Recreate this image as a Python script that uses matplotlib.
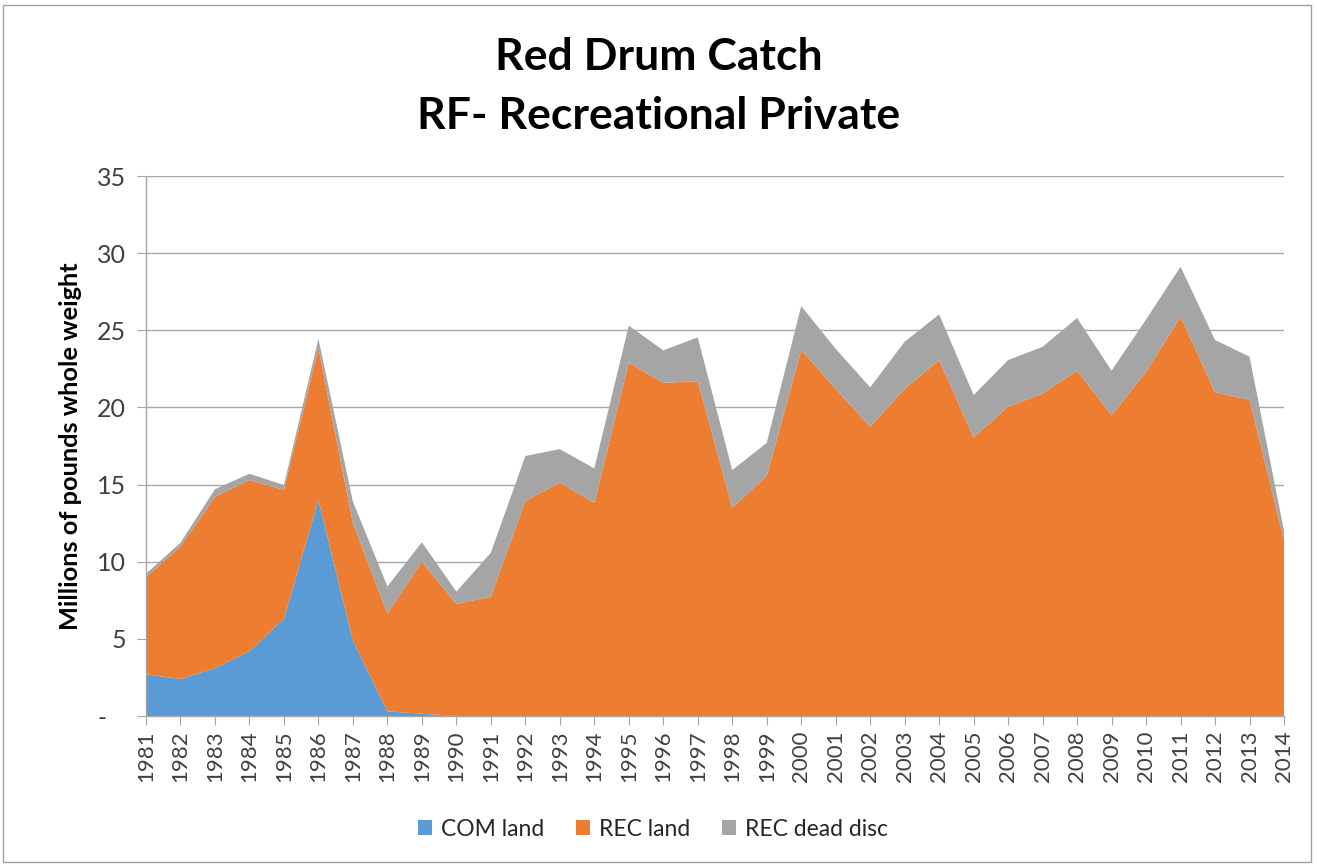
import matplotlib
matplotlib.use("Agg")
import matplotlib.pyplot as plt
from matplotlib import font_manager
from matplotlib.patches import Patch, Rectangle

years = list(range(1981, 2015))
com_land = [2.7, 2.4, 3.1, 4.2, 6.3, 14.0, 4.9, 0.3, 0.15, 0.0,
            0, 0, 0, 0, 0, 0, 0, 0, 0, 0,
            0, 0, 0, 0, 0, 0, 0, 0, 0, 0,
            0, 0, 0, 0]
rec_land = [6.3, 8.6, 11.1, 11.1, 8.35, 9.85, 7.6, 6.35, 9.85, 7.26,
            7.73, 13.95, 15.12, 13.83, 22.9, 21.6, 21.7, 13.5, 15.55, 23.72,
            21.2, 18.75, 21.2, 23.07, 18.06, 20.05, 20.9, 22.38, 19.5, 22.3,
            25.88, 20.98, 20.5, 11.4]
rec_dead_disc = [0.22, 0.23, 0.5, 0.4, 0.32, 0.6, 1.4, 1.75, 1.26, 0.8,
                 2.85, 2.9, 2.18, 2.22, 2.4, 2.1, 2.84, 2.44, 2.15, 2.85,
                 2.6, 2.55, 3.06, 2.96, 2.74, 3.02, 3.03, 3.42, 2.88, 3.4,
                 3.24, 3.39, 2.79, 0.6]
series_names = ["COM land", "REC land", "REC dead disc"]
colors = ["#5B9BD5", "#ED7D31", "#A5A5A5"]

available = {f.name for f in font_manager.fontManager.ttflist}
fam = "Lato" if "Lato" in available else "Liberation Sans"
plt.rcParams['font.family'] = [fam, 'DejaVu Sans']

W, H = 1317, 867
fig = plt.figure(figsize=(W / 100, H / 100), dpi=100)
fig.patch.set_facecolor("white")

# outer border
fig.add_artist(Rectangle((3 / W, 1 - 862 / H), (1311 - 3) / W, (862 - 5) / H,
                         transform=fig.transFigure, fill=False,
                         edgecolor="#A0A0A0", linewidth=1.0))

ax = fig.add_axes([146 / W, 1 - 716 / H, (1284 - 146) / W, (716 - 176) / H])
ax.stackplot(years, com_land, rec_land, rec_dead_disc, colors=colors,
             linewidth=0, zorder=3)

ax.set_xlim(years[0], years[-1])
ax.set_ylim(0, 35)
ax.set_yticks(range(0, 36, 5))
ax.set_yticklabels(["-   "] + [str(v) for v in range(5, 36, 5)])
ax.set_xticks(years)
ax.set_xticklabels([str(y) for y in years], rotation=90)

grid_c = "#A6A6A6"
ax.grid(axis="y", color=grid_c, linewidth=1.0, zorder=0)
ax.set_axisbelow(True)
for s in ["top", "right"]:
    ax.spines[s].set_visible(False)
for s in ["left", "bottom"]:
    ax.spines[s].set_color(grid_c)
    ax.spines[s].set_linewidth(1.0)
    ax.spines[s].set_zorder(4)

ax.tick_params(axis="y", direction="out", length=6.5, color=grid_c,
               labelsize=18, labelcolor="#404040", pad=8)
ax.tick_params(axis="x", direction="out", length=6.5, color=grid_c,
               labelsize=16, labelcolor="#404040", pad=4)

ax.set_ylabel("Millions of pounds whole weight", fontsize=18.3,
              fontweight="bold")
ax.yaxis.set_label_coords((82 - 146) / 1138, 0.5)

fig.text(659 / W, 1 - 57 / H, "Red Drum Catch", ha="center", va="center",
         fontsize=32, fontweight="bold")
fig.text(659 / W, 1 - 116 / H, "RF- Recreational Private", ha="center",
         va="center", fontsize=32, fontweight="bold")

handles = [Patch(facecolor=c, edgecolor="none") for c in colors]
fig.legend(handles, series_names, loc="center", ncol=3,
           bbox_to_anchor=(653 / W, 1 - 829 / H), frameon=False,
           fontsize=16.5, handlelength=0.6, handleheight=0.6,
           handletextpad=0.4, columnspacing=1.4, labelcolor="#262626")

fig.savefig("out.png", dpi=100, facecolor="white")
